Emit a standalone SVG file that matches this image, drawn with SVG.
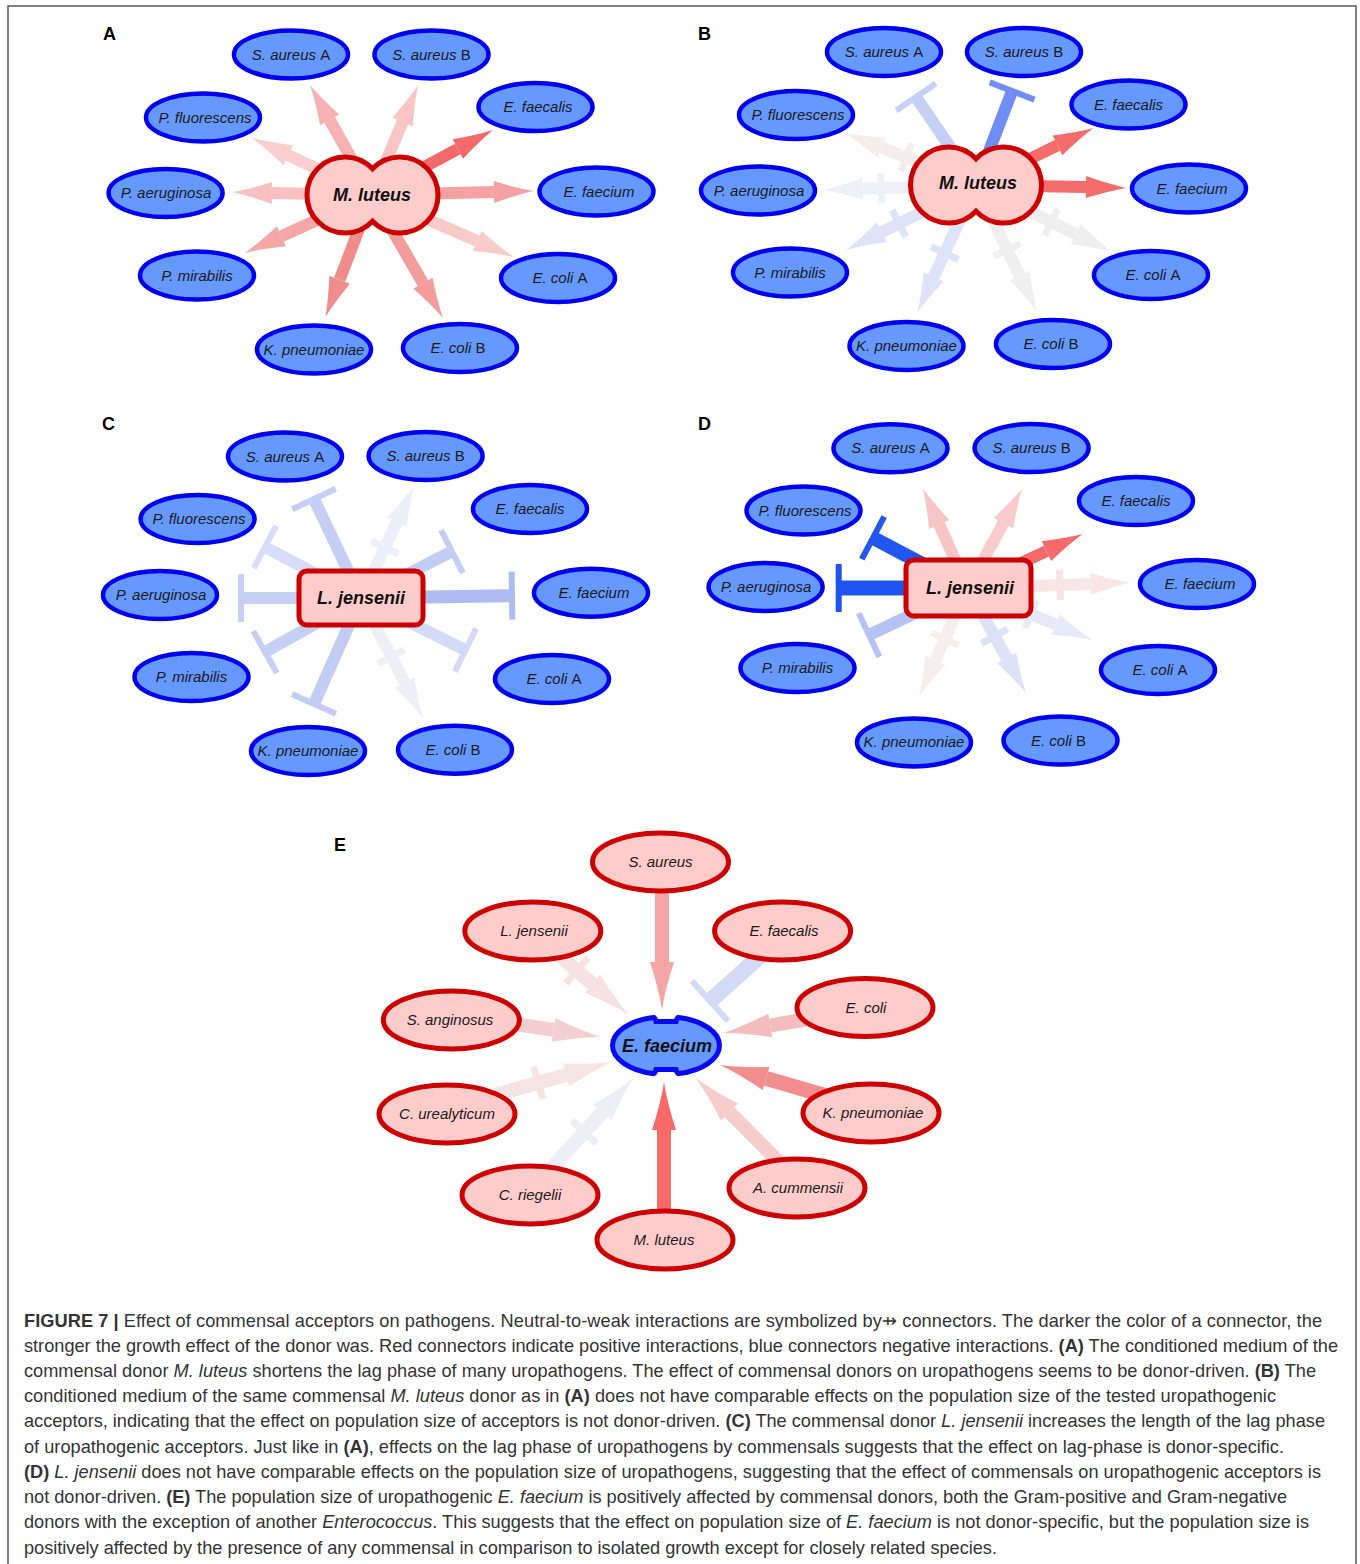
<svg xmlns="http://www.w3.org/2000/svg" xmlns:xlink="http://www.w3.org/1999/xlink" width="1360" height="1564" viewBox="0 0 1360 1564">
<style>
.bn{fill:#6699ff;stroke:#0000ee;stroke-width:4.5}
.rn{fill:#ffcccc;stroke:#cc0000;stroke-width:5}
.cn{fill:#ffcccc;stroke:#cc0000;stroke-width:5}
.t{font-family:"Liberation Sans",Arial,sans-serif;font-size:15px;font-style:italic;fill:#1a1a1a;text-anchor:middle}
.tc{font-family:"Liberation Sans",Arial,sans-serif;font-size:18px;font-style:italic;font-weight:bold;fill:#111;text-anchor:middle}
.u{font-style:normal}
.pl{font-family:"Liberation Sans",Arial,sans-serif;font-size:18px;font-weight:bold;fill:#000}
.cap{font-family:"Liberation Sans",Arial,"DejaVu Sans",sans-serif;font-size:18.2px;fill:#333}
.b{font-weight:bold}
.i{font-style:italic}
</style>
<defs>
<path id="hd" d="M0,0 Q-16,-3 -40,-11 L-40,11 Q-16,3 0,0 Z"/>
<path id="hdE" d="M0,0 Q-20,-3 -48,-12 L-48,12 Q-20,3 0,0 Z"/>
<rect id="tb" x="-3" y="-24" width="6" height="48"/>
<rect id="tbE" x="-3" y="-27" width="6" height="54"/>
<rect id="xb" x="-3.5" y="-15" width="7" height="30"/>
<rect id="xbE" x="-3.5" y="-17" width="7" height="34"/>
</defs>
<rect x="0" y="0" width="1360" height="1564" fill="#ffffff"/>
<path d="M8,1564 V6 H1356 V1564" fill="none" stroke="#5a5a5a" stroke-width="1.5"/>

<g id="panel-labels" class="pl">
<text x="103" y="40">A</text>
<text x="698" y="40">B</text>
<text x="102" y="430">C</text>
<text x="698" y="430">D</text>
<text x="334" y="851">E</text>
</g>

<g id="connectors">
<g id="conn-A" transform="translate(372,195)">
<g transform="rotate(-119.4)" fill="#f6b2b2"><rect x="0" y="-6" width="86.3" height="12"/><use href="#hd" x="126.3"/></g>
<g transform="rotate(-67.3)" fill="#f8c4c4"><rect x="0" y="-6" width="79.2" height="12"/><use href="#hd" x="119.2"/></g>
<g transform="rotate(-28.2)" fill="#f36a6a"><rect x="0" y="-6" width="97.4" height="12"/><use href="#hd" x="137.4"/></g>
<g transform="rotate(-1.4)" fill="#f6a2a2"><rect x="0" y="-6" width="122" height="12"/><use href="#hd" x="162"/></g>
<g transform="rotate(23.6)" fill="#f8caca"><rect x="0" y="-6" width="114.9" height="12"/><use href="#hd" x="154.9"/></g>
<g transform="rotate(60)" fill="#f39c9c"><rect x="0" y="-6" width="102" height="12"/><use href="#hd" x="142"/></g>
<g transform="rotate(110.9)" fill="#f18c8c"><rect x="0" y="-6" width="90.7" height="12"/><use href="#hd" x="130.7"/></g>
<g transform="rotate(155.5)" fill="#f5a6a6"><rect x="0" y="-6" width="99.6" height="12"/><use href="#hd" x="139.6"/></g>
<g transform="rotate(181.2)" fill="#f8c0c0"><rect x="0" y="-6" width="100" height="12"/><use href="#hd" x="140"/></g>
<g transform="rotate(-154.6)" fill="#f8cece"><rect x="0" y="-6" width="92.8" height="12"/><use href="#hd" x="132.8"/></g>
</g>
<g id="conn-B" transform="translate(976,185)">
<g transform="rotate(-124.3)" fill="#c6d0f5"><rect x="0" y="-6" width="106.5" height="12"/><use href="#tb" x="106.5"/></g>
<g transform="rotate(-69)" fill="#6f8df4"><rect x="0" y="-6" width="100.7" height="12"/><use href="#tb" x="100.7"/></g>
<g transform="rotate(-25.9)" fill="#f56c6c"><rect x="0" y="-6" width="90.6" height="12"/><use href="#hd" x="130.6"/></g>
<g transform="rotate(1.1)" fill="#f56c6c"><rect x="0" y="-6" width="110" height="12"/><use href="#hd" x="150"/></g>
<g transform="rotate(26.2)" fill="#eeeeee"><rect x="0" y="-6" width="111.2" height="12"/><use href="#hd" x="151.2"/><use href="#xb" x="84"/></g>
<g transform="rotate(64.3)" fill="#efefef"><rect x="0" y="-6" width="100.6" height="12"/><use href="#hd" x="140.6"/><use href="#xb" x="72"/></g>
<g transform="rotate(114.7)" fill="#dde3f8"><rect x="0" y="-6" width="101" height="12"/><use href="#hd" x="141"/><use href="#xb" x="75"/></g>
<g transform="rotate(153.4)" fill="#dfe3f6"><rect x="0" y="-6" width="105.3" height="12"/><use href="#hd" x="145.3"/><use href="#xb" x="86"/></g>
<g transform="rotate(178.1)" fill="#eff0f7"><rect x="0" y="-6" width="113.4" height="12"/><use href="#hd" x="153.4"/><use href="#xb" x="95"/></g>
<g transform="rotate(-158.4)" fill="#f5eded"><rect x="0" y="-6" width="101.4" height="12"/><use href="#hd" x="141.4"/><use href="#xb" x="75"/></g>
</g>
<g id="conn-C" transform="translate(361,598)">
<g transform="rotate(-115.4)" fill="#c5cff5"><rect x="0" y="-6" width="109.6" height="12"/><use href="#tb" x="109.6"/></g>
<g transform="rotate(-64.7)" fill="#eceef8"><rect x="0" y="-6" width="83.9" height="12"/><use href="#hd" x="123.9"/><use href="#xb" x="56"/></g>
<g transform="rotate(-27.1)" fill="#c3cdf4"><rect x="0" y="-6" width="102.2" height="12"/><use href="#tb" x="102.2"/></g>
<g transform="rotate(-0.9)" fill="#aebcf2"><rect x="0" y="-6.5" width="151" height="13"/><use href="#tb" x="151"/></g>
<g transform="rotate(26.5)" fill="#d3daf7"><rect x="0" y="-6" width="116.7" height="12"/><use href="#tb" x="116.7"/></g>
<g transform="rotate(62.7)" fill="#eeeff4"><rect x="0" y="-6" width="95" height="12"/><use href="#hd" x="135"/><use href="#xb" x="66"/></g>
<g transform="rotate(113.9)" fill="#c3cdf4"><rect x="0" y="-6" width="116" height="12"/><use href="#tb" x="116"/></g>
<g transform="rotate(150.6)" fill="#c6d0f5"><rect x="0" y="-6" width="110.1" height="12"/><use href="#tb" x="110.1"/></g>
<g transform="rotate(180)" fill="#c6d0f5"><rect x="0" y="-6" width="120" height="12"/><use href="#tb" x="120"/></g>
<g transform="rotate(-152)" fill="#d6ddf8"><rect x="0" y="-6" width="108.7" height="12"/><use href="#tb" x="108.7"/></g>
</g>
<g id="conn-D" transform="translate(968,588)">
<g transform="rotate(-114.4)" fill="#f6c6c6"><rect x="0" y="-6" width="69.8" height="12"/><use href="#hd" x="109.8"/></g>
<g transform="rotate(-61.4)" fill="#f8cccc"><rect x="0" y="-6" width="73.9" height="12"/><use href="#hd" x="113.9"/></g>
<g transform="rotate(-25.2)" fill="#f56a6a"><rect x="0" y="-6" width="86.7" height="12"/><use href="#hd" x="126.7"/></g>
<g transform="rotate(-1.9)" fill="#f8e6e6"><rect x="0" y="-6" width="122.7" height="12"/><use href="#hd" x="162.7"/><use href="#xb" x="92"/></g>
<g transform="rotate(22.6)" fill="#e6e9f8"><rect x="0" y="-6" width="95.1" height="12"/><use href="#hd" x="135.1"/><use href="#xb" x="68"/></g>
<g transform="rotate(61.1)" fill="#dde2f7"><rect x="0" y="-6" width="80" height="12"/><use href="#hd" x="120"/><use href="#xb" x="55"/></g>
<g transform="rotate(114.3)" fill="#f5eeee"><rect x="0" y="-6" width="79.2" height="12"/><use href="#hd" x="119.2"/><use href="#xb" x="56"/></g>
<g transform="rotate(154.6)" fill="#b4c3f3"><rect x="0" y="-6" width="109.6" height="12"/><use href="#tb" x="109.6"/></g>
<g transform="rotate(180)" fill="#1f55ef"><rect x="0" y="-7.5" width="129.3" height="15"/><use href="#tb" x="129.3"/></g>
<g transform="rotate(-152.2)" fill="#2257ef"><rect x="0" y="-7" width="107.4" height="14"/><use href="#tb" x="107.4"/></g>
</g>
<g id="conn-E">
<g transform="translate(662,893) rotate(90)" fill="#f5a5a5"><rect x="0" y="-7" width="69" height="14"/><use href="#hdE" x="117"/></g>
<g transform="translate(548,946) rotate(40.4)" fill="#f7e2e2"><rect x="0" y="-7" width="58.4" height="14"/><use href="#hdE" x="106.4"/><use href="#xbE" x="38"/></g>
<g transform="translate(770,947) rotate(138)" fill="#d2daf6"><rect x="0" y="-8" width="80.7" height="16"/><use href="#tbE" x="80.7"/></g>
<g transform="translate(815,1018) rotate(170.7)" fill="#f4bcbc"><rect x="0" y="-7" width="45.2" height="14"/><use href="#hdE" x="93.2"/></g>
<g transform="translate(830,1097) rotate(-163.8)" fill="#f28e8e"><rect x="0" y="-7.5" width="66.6" height="15"/><use href="#hdE" x="114.6"/></g>
<g transform="translate(782,1165) rotate(-134.8)" fill="#f6cccc"><rect x="0" y="-7" width="74.6" height="14"/><use href="#hdE" x="122.6"/></g>
<g transform="translate(664,1212) rotate(-90)" fill="#f66a6a"><rect x="0" y="-7" width="82" height="14"/><use href="#hdE" x="130"/></g>
<g transform="translate(548,1172) rotate(-47.7)" fill="#edeef5"><rect x="0" y="-7" width="80.5" height="14"/><use href="#hdE" x="128.5"/><use href="#xbE" x="54"/></g>
<g transform="translate(495,1095) rotate(-15.8)" fill="#f6e4e4"><rect x="0" y="-7" width="73.6" height="14"/><use href="#hdE" x="121.6"/><use href="#xbE" x="45"/></g>
<g transform="translate(515,1024) rotate(8.6)" fill="#f5cfcf"><rect x="0" y="-7" width="39" height="14"/><use href="#hdE" x="87"/></g>
</g>
</g>

<!-- Panel A nodes -->
<g id="A-center"><path class="cn" d="M372.5,168.8 A38,38 0 1,0 372.5,221.2 A38,38 0 1,0 372.5,168.8 Z"/><text class="tc" x="372" y="201">M. luteus</text></g>
<g id="A-saureusA"><ellipse class="bn" cx="291" cy="54.5" rx="57" ry="24"/><text class="t" x="291" y="59.5">S. aureus <tspan class="u">A</tspan></text></g>
<g id="A-saureusB"><ellipse class="bn" cx="431.5" cy="54.5" rx="57" ry="24"/><text class="t" x="431.5" y="59.5">S. aureus <tspan class="u">B</tspan></text></g>
<g id="A-efaecalis"><ellipse class="bn" cx="535.5" cy="107" rx="57" ry="24"/><text class="t" x="538" y="112">E. faecalis</text></g>
<g id="A-efaecium"><ellipse class="bn" cx="596.5" cy="191.5" rx="57" ry="24"/><text class="t" x="599" y="196.5">E. faecium</text></g>
<g id="A-ecoliA"><ellipse class="bn" cx="558" cy="278" rx="57" ry="24"/><text class="t" x="560" y="283">E. coli <tspan class="u">A</tspan></text></g>
<g id="A-ecoliB"><ellipse class="bn" cx="460" cy="348" rx="57" ry="24"/><text class="t" x="458" y="353">E. coli <tspan class="u">B</tspan></text></g>
<g id="A-kpneumoniae"><ellipse class="bn" cx="314" cy="349.5" rx="57" ry="24"/><text class="t" x="314" y="354.5">K. pneumoniae</text></g>
<g id="A-pmirabilis"><ellipse class="bn" cx="197" cy="275.5" rx="57" ry="24"/><text class="t" x="197" y="280.5">P. mirabilis</text></g>
<g id="A-paeruginosa"><ellipse class="bn" cx="165.6" cy="193" rx="57" ry="24"/><text class="t" x="166" y="198">P. aeruginosa</text></g>
<g id="A-pfluorescens"><ellipse class="bn" cx="203" cy="117.5" rx="57" ry="24"/><text class="t" x="205" y="122.5">P. fluorescens</text></g>

<!-- Panel B nodes -->
<g id="B-center"><path class="cn" d="M976,158.8 A38,38 0 1,0 976,211.2 A38,38 0 1,0 976,158.8 Z"/><text class="tc" x="978" y="189">M. luteus</text></g>
<g id="B-saureusA"><ellipse class="bn" cx="884" cy="52" rx="57" ry="24"/><text class="t" x="884" y="57">S. aureus <tspan class="u">A</tspan></text></g>
<g id="B-saureusB"><ellipse class="bn" cx="1024" cy="52" rx="57" ry="24"/><text class="t" x="1024" y="57">S. aureus <tspan class="u">B</tspan></text></g>
<g id="B-efaecalis"><ellipse class="bn" cx="1128.5" cy="104.5" rx="57" ry="24"/><text class="t" x="1128.5" y="109.5">E. faecalis</text></g>
<g id="B-efaecium"><ellipse class="bn" cx="1189" cy="188.5" rx="57" ry="24"/><text class="t" x="1192" y="193.5">E. faecium</text></g>
<g id="B-ecoliA"><ellipse class="bn" cx="1151" cy="275" rx="57" ry="24"/><text class="t" x="1153" y="280">E. coli <tspan class="u">A</tspan></text></g>
<g id="B-ecoliB"><ellipse class="bn" cx="1053" cy="344" rx="57" ry="24"/><text class="t" x="1051" y="349">E. coli <tspan class="u">B</tspan></text></g>
<g id="B-kpneumoniae"><ellipse class="bn" cx="906.5" cy="346" rx="57" ry="24"/><text class="t" x="906.5" y="351">K. pneumoniae</text></g>
<g id="B-pmirabilis"><ellipse class="bn" cx="790" cy="272.5" rx="57" ry="24"/><text class="t" x="790" y="277.5">P. mirabilis</text></g>
<g id="B-paeruginosa"><ellipse class="bn" cx="758" cy="190.5" rx="57" ry="24"/><text class="t" x="759" y="195.5">P. aeruginosa</text></g>
<g id="B-pfluorescens"><ellipse class="bn" cx="796" cy="115" rx="57" ry="24"/><text class="t" x="798" y="120">P. fluorescens</text></g>

<!-- Panel C nodes -->
<g id="C-center"><rect class="cn" x="299" y="571" width="124" height="54" rx="8"/><text class="tc" x="361" y="604">L. jensenii</text></g>
<g id="C-saureusA"><ellipse class="bn" cx="285" cy="456.5" rx="57" ry="24"/><text class="t" x="285" y="461.5">S. aureus <tspan class="u">A</tspan></text></g>
<g id="C-saureusB"><ellipse class="bn" cx="425.6" cy="456" rx="57" ry="24"/><text class="t" x="425.6" y="461">S. aureus <tspan class="u">B</tspan></text></g>
<g id="C-efaecalis"><ellipse class="bn" cx="530" cy="509" rx="57" ry="24"/><text class="t" x="530" y="514">E. faecalis</text></g>
<g id="C-efaecium"><ellipse class="bn" cx="591" cy="592.7" rx="57" ry="24"/><text class="t" x="594" y="597.7">E. faecium</text></g>
<g id="C-ecoliA"><ellipse class="bn" cx="552" cy="679" rx="57" ry="24"/><text class="t" x="554" y="684">E. coli <tspan class="u">A</tspan></text></g>
<g id="C-ecoliB"><ellipse class="bn" cx="455" cy="749.7" rx="57" ry="24"/><text class="t" x="453" y="754.7">E. coli <tspan class="u">B</tspan></text></g>
<g id="C-kpneumoniae"><ellipse class="bn" cx="308" cy="751" rx="57" ry="24"/><text class="t" x="308" y="756">K. pneumoniae</text></g>
<g id="C-pmirabilis"><ellipse class="bn" cx="191.5" cy="677" rx="57" ry="24"/><text class="t" x="191.5" y="682">P. mirabilis</text></g>
<g id="C-paeruginosa"><ellipse class="bn" cx="160" cy="595" rx="57" ry="24"/><text class="t" x="161" y="600">P. aeruginosa</text></g>
<g id="C-pfluorescens"><ellipse class="bn" cx="197.6" cy="519" rx="57" ry="24"/><text class="t" x="199" y="524">P. fluorescens</text></g>

<!-- Panel D nodes -->
<g id="D-center"><rect class="cn" x="906" y="560" width="125" height="56" rx="8"/><text class="tc" x="970" y="594">L. jensenii</text></g>
<g id="D-saureusA"><ellipse class="bn" cx="890.5" cy="448.3" rx="57" ry="24"/><text class="t" x="890.5" y="453.3">S. aureus <tspan class="u">A</tspan></text></g>
<g id="D-saureusB"><ellipse class="bn" cx="1031.6" cy="448" rx="57" ry="24"/><text class="t" x="1031.6" y="453">S. aureus <tspan class="u">B</tspan></text></g>
<g id="D-efaecalis"><ellipse class="bn" cx="1136" cy="501" rx="57" ry="24"/><text class="t" x="1136" y="506">E. faecalis</text></g>
<g id="D-efaecium"><ellipse class="bn" cx="1197" cy="584" rx="57" ry="24"/><text class="t" x="1200" y="589">E. faecium</text></g>
<g id="D-ecoliA"><ellipse class="bn" cx="1158" cy="670" rx="57" ry="24"/><text class="t" x="1160" y="675">E. coli <tspan class="u">A</tspan></text></g>
<g id="D-ecoliB"><ellipse class="bn" cx="1060.5" cy="740.5" rx="57" ry="24"/><text class="t" x="1058.5" y="745.5">E. coli <tspan class="u">B</tspan></text></g>
<g id="D-kpneumoniae"><ellipse class="bn" cx="914" cy="742.4" rx="57" ry="24"/><text class="t" x="914" y="747.4">K. pneumoniae</text></g>
<g id="D-pmirabilis"><ellipse class="bn" cx="797.5" cy="668" rx="57" ry="24"/><text class="t" x="797.5" y="673">P. mirabilis</text></g>
<g id="D-paeruginosa"><ellipse class="bn" cx="765.6" cy="587" rx="57" ry="24"/><text class="t" x="766" y="592">P. aeruginosa</text></g>
<g id="D-pfluorescens"><ellipse class="bn" cx="803.5" cy="510.5" rx="57" ry="24"/><text class="t" x="805" y="515.5">P. fluorescens</text></g>

<!-- Panel E nodes -->
<g id="E-center"><path d="M612.5,1045.5 A53.5,29 0 0,1 653,1017.4 Q655,1017 656,1021.5 L676,1021.5 Q677,1017 679,1017.4 A53.5,29 0 0,1 719.5,1045.5 A53.5,29 0 0,1 679,1073.6 Q677,1074 676,1069.5 L656,1069.5 Q655,1074 653,1073.6 A53.5,29 0 0,1 612.5,1045.5 Z" fill="#6699ff" stroke="#0a0af0" stroke-width="5"/><text class="tc" x="667" y="1052">E. faecium</text></g>
<g id="E-saureus"><ellipse class="rn" cx="660.5" cy="862" rx="68" ry="29"/><text class="t" x="660.5" y="867">S. aureus</text></g>
<g id="E-ljensenii"><ellipse class="rn" cx="532.8" cy="931" rx="68" ry="29"/><text class="t" x="534" y="936">L. jensenii</text></g>
<g id="E-efaecalis"><ellipse class="rn" cx="782.6" cy="931" rx="68" ry="29"/><text class="t" x="784" y="936">E. faecalis</text></g>
<g id="E-ecoli"><ellipse class="rn" cx="865" cy="1007.5" rx="68" ry="29"/><text class="t" x="866" y="1012.5">E. coli</text></g>
<g id="E-kpneumoniae"><ellipse class="rn" cx="871" cy="1113" rx="68" ry="29"/><text class="t" x="873" y="1118">K. pneumoniae</text></g>
<g id="E-acummensii"><ellipse class="rn" cx="797" cy="1188" rx="68" ry="29"/><text class="t" x="798" y="1193">A. cummensii</text></g>
<g id="E-mluteus"><ellipse class="rn" cx="665" cy="1240" rx="68" ry="29"/><text class="t" x="664" y="1245">M. luteus</text></g>
<g id="E-criegelii"><ellipse class="rn" cx="530" cy="1195" rx="68" ry="29"/><text class="t" x="530" y="1200">C. riegelii</text></g>
<g id="E-curealyticum"><ellipse class="rn" cx="447" cy="1114" rx="68" ry="29"/><text class="t" x="447" y="1119">C. urealyticum</text></g>
<g id="E-sanginosus"><ellipse class="rn" cx="451.4" cy="1020" rx="68" ry="29"/><text class="t" x="450" y="1025">S. anginosus</text></g>

<g id="caption" class="cap">
<text x="24" y="1327" textLength="1298" lengthAdjust="spacing"><tspan class="b">FIGURE 7 |</tspan> Effect of commensal acceptors on pathogens. Neutral-to-weak interactions are symbolized by⇸ connectors. The darker the color of a connector, the</text>
<text x="24" y="1352" textLength="1314" lengthAdjust="spacing">stronger the growth effect of the donor was. Red connectors indicate positive interactions, blue connectors negative interactions. <tspan class="b">(A)</tspan> The conditioned medium of the</text>
<text x="24" y="1377" textLength="1292" lengthAdjust="spacing">commensal donor <tspan class="i">M. luteus</tspan> shortens the lag phase of many uropathogens. The effect of commensal donors on uropathogens seems to be donor-driven. <tspan class="b">(B)</tspan> The</text>
<text x="24" y="1402" textLength="1252" lengthAdjust="spacing">conditioned medium of the same commensal <tspan class="i">M. luteus</tspan> donor as in <tspan class="b">(A)</tspan> does not have comparable effects on the population size of the tested uropathogenic</text>
<text x="24" y="1427" textLength="1301" lengthAdjust="spacing">acceptors, indicating that the effect on population size of acceptors is not donor-driven. <tspan class="b">(C)</tspan> The commensal donor <tspan class="i">L. jensenii</tspan> increases the length of the lag phase</text>
<text x="24" y="1453" textLength="1260" lengthAdjust="spacing">of uropathogenic acceptors. Just like in <tspan class="b">(A)</tspan>, effects on the lag phase of uropathogens by commensals suggests that the effect on lag-phase is donor-specific.</text>
<text x="24" y="1478" textLength="1297" lengthAdjust="spacing"><tspan class="b">(D)</tspan> <tspan class="i">L. jensenii</tspan> does not have comparable effects on the population size of uropathogens, suggesting that the effect of commensals on uropathogenic acceptors is</text>
<text x="24" y="1503" textLength="1263" lengthAdjust="spacing">not donor-driven. <tspan class="b">(E)</tspan> The population size of uropathogenic <tspan class="i">E. faecium</tspan> is positively affected by commensal donors, both the Gram-positive and Gram-negative</text>
<text x="24" y="1528" textLength="1285" lengthAdjust="spacing">donors with the exception of another <tspan class="i">Enterococcus</tspan>. This suggests that the effect on population size of <tspan class="i">E. faecium</tspan> is not donor-specific, but the population size is</text>
<text x="24" y="1554" textLength="973" lengthAdjust="spacing">positively affected by the presence of any commensal in comparison to isolated growth except for closely related species.</text>
</g>
</svg>
